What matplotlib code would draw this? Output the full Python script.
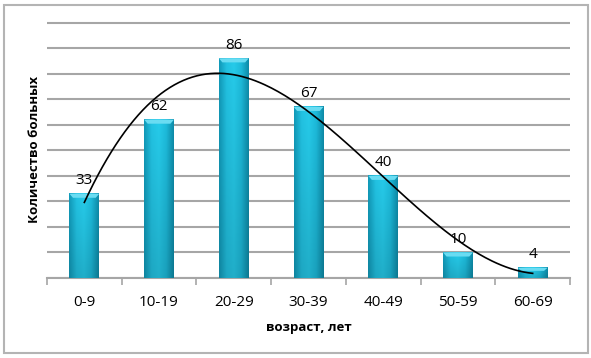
import numpy as np
import matplotlib.pyplot as plt
from matplotlib.colors import LinearSegmentedColormap
from matplotlib.patches import Rectangle, Polygon

plt.rcParams['font.family'] = ['Open Sans', 'DejaVu Sans']

ages = ['0-9', '10-19', '20-29', '30-39', '40-49', '50-59', '60-69']
patients = [33, 62, 86, 67, 40, 10, 4]

fig = plt.figure(figsize=(5.91, 3.58), dpi=100)
ax = fig.add_axes([0.0795, 0.2235, 0.885, 0.7178])

x = np.arange(len(ages))
bars = ax.bar(x, patients, width=0.4, color='none', zorder=3)

# bar shading: darker edges, bright middle, a bit darker towards the bottom
cmap = LinearSegmentedColormap.from_list(
    'cy', ['#1199b8', '#22c2e2', '#26cbea', '#1dbada', '#0e8ba8'])
h = np.linspace(0, 1, 64)
v = np.linspace(0.86, 1.0, 64).reshape(-1, 1)
rgb = cmap(h)[:, :3]
img = rgb[None, :, :] * v[:, :, None]
for b in bars:
    bx, bw, bh = b.get_x(), b.get_width(), b.get_height()
    ax.imshow(img, aspect='auto', extent=[bx, bx + bw, 0, bh], origin='lower', zorder=3)
    bev = min(1.6, bh * 0.3)
    ax.add_patch(Polygon([(bx, bh), (bx + bw, bh), (bx + bw * 0.88, bh - bev),
                          (bx + bw * 0.12, bh - bev)], closed=True,
                         color='#6adcf2', lw=0, zorder=4))
    ax.annotate(str(b.get_height()), (bx + bw / 2, bh), xytext=(0, 4),
                textcoords='offset points', ha='center', va='bottom', fontsize=11)

# polynomial trend line (3rd order)
coef = np.polyfit(x, patients, 3)
xs = np.linspace(0, len(ages) - 1, 200)
ax.plot(xs, np.polyval(coef, xs), color='black', lw=1.2, zorder=5)

ax.set_xlim(-0.5, len(ages) - 0.5)
ax.set_ylim(0, 100.6)
ax.set_yticks(np.arange(0, 101, 10))
ax.set_yticklabels([])
ax.tick_params(axis='y', length=0)
ax.grid(axis='y', color='#a6a6a6', lw=1.5, zorder=0)
ax.set_axisbelow(True)

ax.set_xticks(x)
ax.set_xticklabels(ages, fontsize=11)
ax.set_xticks(np.arange(-0.5, len(ages)), minor=True)
ax.tick_params(axis='x', which='major', length=0, pad=12)
ax.tick_params(axis='x', which='minor', length=5, color='#a6a6a6', width=1.2)

for s in ['left', 'right', 'top']:
    ax.spines[s].set_visible(False)
ax.spines['bottom'].set_color('#a6a6a6')
ax.spines['bottom'].set_linewidth(1.5)

ax.set_xlabel('возраст, лет', fontsize=9.5, fontweight='bold', labelpad=8)
ax.set_ylabel('Количество больных', fontsize=9.5, fontweight='bold')
ax.yaxis.set_label_coords(-0.011, 0.5)

fig.patches.append(Rectangle((4 / 591, 5 / 358), 584 / 591, 348 / 358, transform=fig.transFigure,
                             fill=False, edgecolor='#b4b4b4', lw=1.5))

fig.savefig('out.png', dpi=100)
